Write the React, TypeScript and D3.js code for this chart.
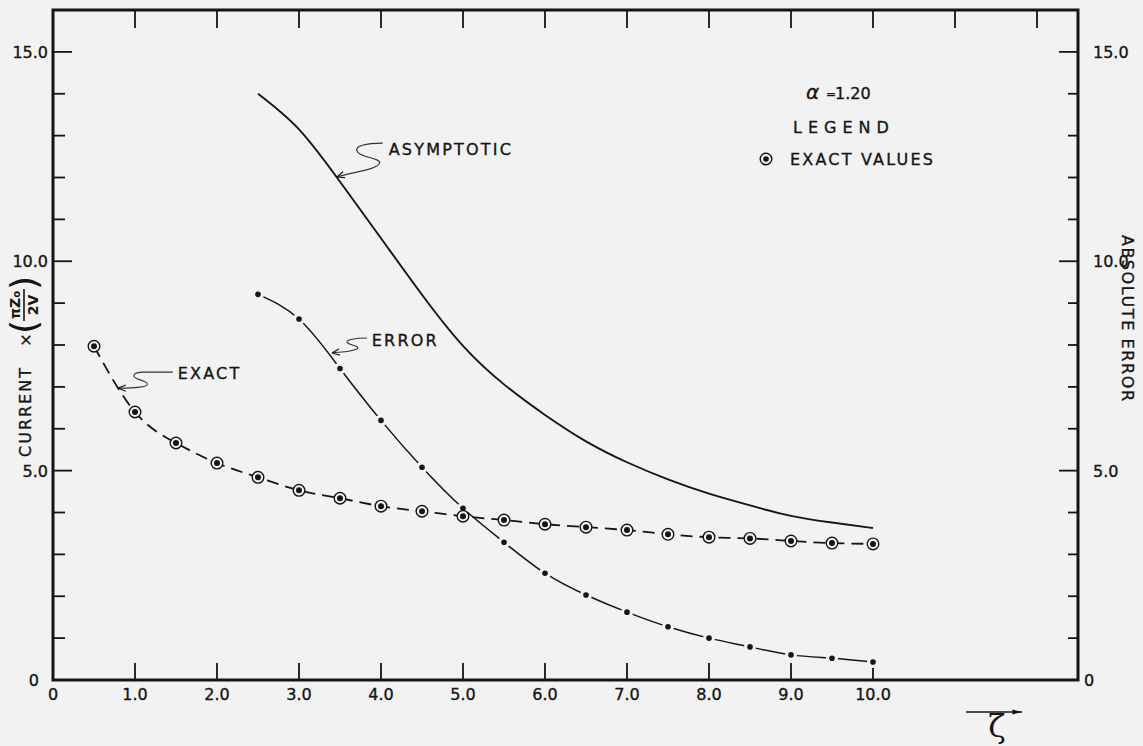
import React from "react";
import * as d3 from "d3";

const W = 1143;
const H = 746;

// ---- data ----
const exactX = [0.5, 1.0, 1.5, 2.0, 2.5, 3.0, 3.5, 4.0, 4.5, 5.0, 5.5, 6.0, 6.5, 7.0, 7.5, 8.0, 8.5, 9.0, 9.5, 10.0];
const exactY = [7.97, 6.4, 5.66, 5.18, 4.84, 4.53, 4.34, 4.15, 4.03, 3.91, 3.82, 3.72, 3.65, 3.58, 3.48, 3.41, 3.38, 3.32, 3.27, 3.25];
const errorX = [2.5, 3.0, 3.5, 4.0, 4.5, 5.0, 5.5, 6.0, 6.5, 7.0, 7.5, 8.0, 8.5, 9.0, 9.5, 10.0];
const errorY = [9.21, 8.62, 7.44, 6.2, 5.08, 4.1, 3.29, 2.55, 2.03, 1.62, 1.27, 1.0, 0.79, 0.6, 0.52, 0.43];
const asymX = [2.5, 3.0, 3.5, 4.0, 4.5, 5.0, 5.5, 6.0, 6.5, 7.0, 7.5, 8.0, 8.5, 9.0, 9.5, 10.0];
const asymY = [14.0, 13.15, 11.9, 10.55, 9.2, 7.98, 7.06, 6.33, 5.7, 5.2, 4.79, 4.45, 4.17, 3.92, 3.76, 3.63];

const xBottomTicks = [0, 1, 2, 3, 4, 5, 6, 7, 8, 9, 10];
const xBottomLabels = ["0", "1.0", "2.0", "3.0", "4.0", "5.0", "6.0", "7.0", "8.0", "9.0", "10.0"];
const xTopTicks = [1, 2, 3, 4, 5, 6, 7, 8, 9, 10, 11, 12];
const yTicks = [1, 2, 3, 4, 5, 6, 7, 8, 9, 10, 11, 12, 13, 14, 15];
const yLabelValues = [0, 5, 10, 15];
const yLabels = ["0", "5.0", "10.0", "15.0"];

// annotation anchors (data coords of leader tips)
const annotations = [
  { label: "ASYMPTOTIC", tx: 3.46, ty: 12.01, textDx: 52, textDy: -28, path: "M46,-34 C30,-34 16,-31 21,-25 C26,-19 44,-19 43,-14 C40,-7 15,-5 0,0" },
  { label: "ERROR", tx: 3.4, ty: 7.81, textDx: 40, textDy: -13, path: "M35,-15 C25,-15 12,-13 16,-10 C20,-7 29,-7 25,-4 C19,-1 8,-1 0,0" },
  { label: "EXACT", tx: 0.79, ty: 6.97, textDx: 60, textDy: -15, path: "M55,-16 L24,-16 C14,-15 13,-11 23,-8 C33,-5 31,-2 22,-1 C14,0 6,0 0,0" },
];

const BG = "#f2f2f2";
const INK = "#151515";
const FONT = "'DejaVu Sans', Verdana, sans-serif";
const TXT = { fill: INK, stroke: INK, strokeWidth: 0.35 };

export default function App() {
  const left = 53, right = 1078, top = 10, bottom = 680;
  const x = d3.scaleLinear().domain([0, 12.5]).range([left, right]);
  const y = d3.scaleLinear().domain([0, 16]).range([bottom, top]);

  const line = d3
    .line<[number, number]>()
    .x((d) => x(d[0]))
    .y((d) => y(d[1]))
    .curve(d3.curveNatural);

  const exactPts = exactX.map((v, i) => [v, exactY[i]] as [number, number]);
  const errorPts = errorX.map((v, i) => [v, errorY[i]] as [number, number]);
  const asymPts = asymX.map((v, i) => [v, asymY[i]] as [number, number]);

  return (
    <svg
      width={W}
      height={H}
      style={{ position: "absolute", left: 0, top: 0, display: "block" }}
      fontFamily={FONT}
    >
      <defs>
        <marker id="harp" viewBox="0 -5 10 10" refX={10} refY={0} markerWidth={8} markerHeight={8} orient="auto" markerUnits="userSpaceOnUse">
          <path d="M0,-4 L10,0 L0,4" fill="none" stroke={INK} strokeWidth={1.4} />
        </marker>
        <marker id="zarrow" viewBox="0 -5 12 10" refX={12} refY={0} markerWidth={12} markerHeight={8} orient="auto" markerUnits="userSpaceOnUse">
          <path d="M0,-3 L12,0 L0,3 Z" fill={INK} />
        </marker>
      </defs>
      <rect x={0} y={0} width={W} height={H} fill={BG} />

      {/* frame */}
      <path
        d={`M${left},${bottom} L${left},${top} L${right},${top} L${right},${bottom} Z`}
        fill="none"
        stroke={INK}
        strokeWidth={3}
      />

      {/* bottom ticks */}
      {xBottomTicks.slice(1).map((t) => (
        <line key={"bt" + t} x1={x(t)} x2={x(t)} y1={bottom} y2={bottom - 17} stroke={INK} strokeWidth={1.8} />
      ))}
      {xBottomTicks.map((t, i) => (
        <text key={"bl" + t} x={x(t)} y={700} textAnchor="middle" fontSize={16} {...TXT}>
          {xBottomLabels[i]}
        </text>
      ))}
      {/* top ticks */}
      {xTopTicks.map((t) => (
        <line key={"tt" + t} x1={x(t)} x2={x(t)} y1={top} y2={top + 18} stroke={INK} strokeWidth={1.8} />
      ))}
      {/* left & right ticks */}
      {yTicks.map((t) => {
        const major = t % 5 === 0;
        return (
          <g key={"yt" + t}>
            <line x1={left} x2={left + (major ? 19 : 12)} y1={y(t)} y2={y(t)} stroke={INK} strokeWidth={1.8} />
            <line x1={right} x2={right - (major ? 19 : 10)} y1={y(t)} y2={y(t)} stroke={INK} strokeWidth={1.8} />
          </g>
        );
      })}
      {yLabelValues.map((v, i) => (
        <g key={"yl" + v}>
          <text x={v === 0 ? 39 : 48} y={y(v) + 6} textAnchor="end" fontSize={16} {...TXT}>
            {yLabels[i]}
          </text>
          <text x={v === 0 ? 1084 : 1093} y={y(v) + 6} textAnchor="start" fontSize={16} {...TXT}>
            {yLabels[i]}
          </text>
        </g>
      ))}

      {/* left axis title */}
      <g transform="translate(25,460) rotate(-90)" {...TXT}>
        <text x={3} y={6} fontSize={16} letterSpacing={2}>CURRENT</text>
        <text x={120} y={6} fontSize={16} textAnchor="middle">×</text>
        <text x={133} y={11} fontSize={36} textAnchor="middle" strokeWidth={0}>(</text>
        <text x={155} y={-5} fontSize={14} textAnchor="middle" fontWeight="bold" strokeWidth={0}>πZ<tspan fontSize={10}>o</tspan></text>
        <line x1={139} x2={171} y1={-1} y2={-1} stroke={INK} strokeWidth={1.6} />
        <text x={155} y={13} fontSize={14} textAnchor="middle" fontWeight="bold" strokeWidth={0}>2V</text>
        <text x={177} y={11} fontSize={36} textAnchor="middle" strokeWidth={0}>)</text>
      </g>

      {/* right axis title */}
      <g transform="translate(1122,235) rotate(90)">
        <text x={0} y={0} fontSize={16} letterSpacing={1.6} {...TXT}>ABSOLUTE ERROR</text>
      </g>

      {/* asymptotic */}
      <path d={line(asymPts) || ""} fill="none" stroke={INK} strokeWidth={1.9} />

      {/* error curve with gaps around dots */}
      <path d={line(errorPts) || ""} fill="none" stroke={INK} strokeWidth={1.5} />
      {errorPts.map((p, i) => (
        <circle key={"em" + i} cx={x(p[0])} cy={y(p[1])} r={6} fill={BG} />
      ))}
      {errorPts.map((p, i) => (
        <circle key={"ed" + i} cx={x(p[0])} cy={y(p[1])} r={2.8} fill={INK} />
      ))}

      {/* exact curve */}
      <path d={line(exactPts) || ""} fill="none" stroke={INK} strokeWidth={1.8} strokeDasharray="12 7" />
      {exactPts.map((p, i) => (
        <g key={"xm" + i}>
          <circle cx={x(p[0])} cy={y(p[1])} r={5.8} fill={BG} stroke={INK} strokeWidth={1.4} />
          <circle cx={x(p[0])} cy={y(p[1])} r={3} fill={INK} />
        </g>
      ))}

      {/* annotations */}
      {annotations.map((a) => {
        const px = x(a.tx), py = y(a.ty);
        return (
          <g key={a.label} transform={`translate(${px},${py})`}>
            <path d={a.path} fill="none" stroke="#333" strokeWidth={1.1} markerEnd="url(#harp)" />
            <text x={a.textDx} y={a.textDy + 6} fontSize={16} letterSpacing={2.2} {...TXT}>
              {a.label}
            </text>
          </g>
        );
      })}

      {/* legend */}
      <text x={806} y={99} fontSize={20} fontStyle="italic" {...TXT}>α</text>
      <text x={826} y={98} fontSize={12} {...TXT}>=</text>
      <text x={835} y={99} fontSize={16} {...TXT}>1.20</text>
      <text x={793} y={133} fontSize={16} letterSpacing={6} {...TXT}>LEGEND</text>
      <circle cx={766} cy={159} r={5.8} fill={BG} stroke={INK} strokeWidth={1.4} />
      <circle cx={766} cy={159} r={2.8} fill={INK} />
      <text x={790} y={165} fontSize={16} letterSpacing={2.2} {...TXT}>EXACT VALUES</text>

      {/* zeta arrow */}
      <line x1={966} x2={1022} y1={712} y2={712} stroke={INK} strokeWidth={1.6} markerEnd="url(#zarrow)" />
      <text x={997} y={737} fontSize={32} textAnchor="middle" fill={INK} fontFamily="'DejaVu Serif', serif">ζ</text>
    </svg>
  );
}
